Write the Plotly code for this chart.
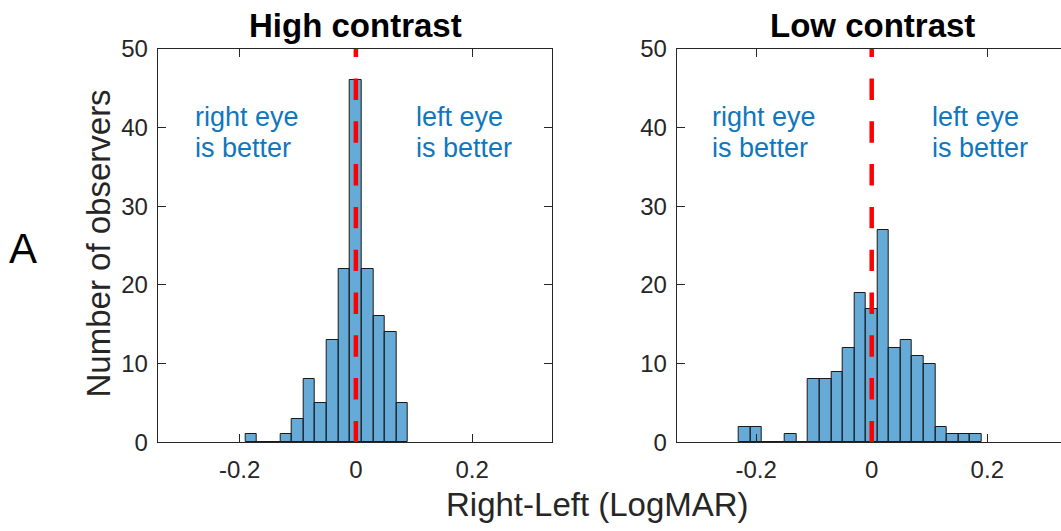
import plotly.graph_objects as go

# ---- data ----
high_centers = [-0.18, -0.16, -0.14, -0.12, -0.10, -0.08, -0.06, -0.04, -0.02, 0.00, 0.02, 0.04, 0.06, 0.08]
high_counts  = [1, 0, 0, 1, 3, 8, 5, 13, 22, 46, 22, 16, 14, 5]

low_centers = [-0.22, -0.20, -0.18, -0.16, -0.14, -0.12, -0.10, -0.08, -0.06, -0.04, -0.02,
               0.00, 0.02, 0.04, 0.06, 0.08, 0.10, 0.12, 0.14, 0.16, 0.18]
low_counts  = [2, 2, 0, 0, 1, 0, 8, 8, 9, 12, 19, 17, 27, 12, 13, 11, 10, 2, 1, 1, 1]

bin_width = 0.02
titles = ["High contrast", "Low contrast"]
x_ticks = [-0.2, 0, 0.2]
x_tick_labels = ["-0.2", "0", "0.2"]
y_ticks = [0, 10, 20, 30, 40, 50]
note_left = ["right eye", "is better"]
note_right = ["left eye", "is better"]
x_label = "Right-Left (LogMAR)"
y_label = "Number of observers"
panel_label = "A"

W, H = 1061, 531
FONT = "Liberation Sans, Arial, Helvetica, sans-serif"
AX = "#262626"
BAR = "rgba(0,114,189,0.6)"
TXT = "#1077BF"

def px(x):
    return x / W

def py(y):
    return 1 - y / H

fig = go.Figure()
for i, (cx, cnt) in enumerate([(high_centers, high_counts), (low_centers, low_counts)]):
    fig.add_trace(go.Bar(
        x=cx, y=cnt, width=bin_width,
        marker=dict(color=BAR, line=dict(color="#1a1a1a", width=1)),
        xaxis="x" if i == 0 else "x2", yaxis="y" if i == 0 else "y2",
        showlegend=False, hoverinfo="x+y",
    ))

ydom = [py(442.3), py(49)]
axis_common = dict(
    showline=True, linecolor=AX, linewidth=1, ticks="inside", ticklen=8,
    tickcolor=AX, tickwidth=1, showgrid=False, zeroline=False, automargin=False,
    tickfont=dict(family=FONT, size=24, color=AX),
)
fig.update_layout(
    width=W, height=H,
    margin=dict(l=0, r=0, t=0, b=0, autoexpand=False),
    paper_bgcolor="white", plot_bgcolor="white",
    bargap=0,
    xaxis=dict(domain=[px(157.7), px(551.7)], range=[-0.341, 0.337], anchor="y",
               tickvals=x_ticks, ticktext=x_tick_labels, mirror="ticks", ticklabelstandoff=6, **axis_common),
    yaxis=dict(domain=ydom, range=[0, 50], anchor="x", tickvals=y_ticks,
               mirror="ticks", ticklabelstandoff=4, **axis_common),
    xaxis2=dict(domain=[px(676.7), 1.0], range=[-0.3374, 0.3275], anchor="y2",
                tickvals=x_ticks, ticktext=x_tick_labels, mirror="ticks", ticklabelstandoff=6, **axis_common),
    yaxis2=dict(domain=ydom, range=[0, 50], anchor="x2", tickvals=y_ticks,
                mirror=False, ticklabelstandoff=4, **axis_common),
)

shapes = []
annotations = []
note_y = [41.36, 37.41]
for i, (xr, yr) in enumerate([("x", "y"), ("x2", "y2")]):
    shapes.append(dict(type="line", xref=xr, yref=yr, x0=0, x1=0, y0=0, y1=50,
                       line=dict(color="#FF0000", width=4.5, dash="21.4px,21.4px")))
    for ny, tl, tr in zip(note_y, note_left, note_right):
        annotations.append(dict(xref=xr, yref=yr, x=-0.28, y=ny, text=tl, showarrow=False,
                                xanchor="left", yanchor="middle", align="left",
                                font=dict(family=FONT, size=27, color=TXT)))
        annotations.append(dict(xref=xr, yref=yr, x=0.1, y=ny, text=tr, showarrow=False,
                                xanchor="left", yanchor="middle", align="left",
                                font=dict(family=FONT, size=27, color=TXT)))

annotations.append(dict(xref="paper", yref="paper", x=px(355.5), y=py(25), text="<b>" + titles[0] + "</b>",
                        showarrow=False, xanchor="center", yanchor="middle",
                        font=dict(family=FONT, size=33, color="black")))
annotations.append(dict(xref="paper", yref="paper", x=px(872.5), y=py(25), text="<b>" + titles[1] + "</b>",
                        showarrow=False, xanchor="center", yanchor="middle",
                        font=dict(family=FONT, size=33, color="black")))
annotations.append(dict(xref="paper", yref="paper", x=px(597.5), y=py(504), text=x_label,
                        showarrow=False, xanchor="center", yanchor="middle",
                        font=dict(family=FONT, size=33, color=AX)))
annotations.append(dict(xref="paper", yref="paper", x=px(97.5), y=py(244), text=y_label,
                        showarrow=False, xanchor="center", yanchor="middle", textangle=-90,
                        font=dict(family=FONT, size=33, color=AX)))
annotations.append(dict(xref="paper", yref="paper", x=px(23), y=py(248), text=panel_label,
                        showarrow=False, xanchor="center", yanchor="middle",
                        font=dict(family=FONT, size=42, color="black")))

fig.update_layout(shapes=shapes, annotations=annotations)
fig.write_html("out.html")
